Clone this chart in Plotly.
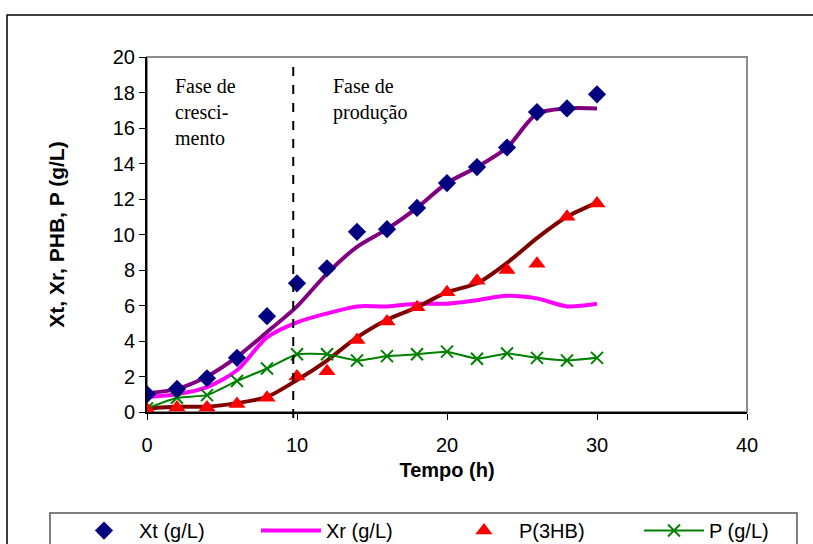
import plotly.graph_objects as go

# ---------------- data ----------------
tempo = [0, 2, 4, 6, 8, 10, 12, 14, 16, 18, 20, 22, 24, 26, 28, 30]
xt_obs = [1.0, 1.3, 1.9, 3.05, 5.4, 7.25, 8.1, 10.15, 10.3, 11.5, 12.9, 13.8, 14.9, 16.9, 17.1, 17.9]
xt_fit = [1.05, 1.3, 2.0, 3.1, 4.5, 5.95, 7.8, 9.3, 10.3, 11.5, 12.9, 13.8, 14.9, 16.8, 17.1, 17.1]
xr_fit = [0.85, 1.0, 1.4, 2.35, 4.2, 5.05, 5.55, 5.95, 5.95, 6.1, 6.1, 6.3, 6.55, 6.4, 5.95, 6.1]
p3hb_obs = [0.15, 0.25, 0.25, 0.45, 0.8, 2.0, 2.3, 4.05, 5.1, 5.9, 6.75, 7.4, 8.0, 8.35, 11.0, 11.75]
p3hb_fit = [0.2, 0.3, 0.3, 0.5, 0.85, 1.8, 2.9, 4.2, 5.2, 5.9, 6.75, 7.25, 8.4, 9.8, 11.0, 11.8]
p_obs = [0.2, 0.8, 0.95, 1.75, 2.45, 3.25, 3.25, 2.9, 3.15, 3.25, 3.4, 3.0, 3.3, 3.05, 2.9, 3.05]

phase_split = 9.75
x_ticks = [0, 10, 20, 30, 40]
y_ticks = [0, 2, 4, 6, 8, 10, 12, 14, 16, 18, 20]

SANS = "Liberation Sans, Arial, sans-serif"
SERIF = "Liberation Serif, Times New Roman, serif"

fig = go.Figure()

# fitted curves (not in legend)
fig.add_trace(go.Scatter(x=tempo, y=xt_fit, mode="lines", line=dict(color="#800080", width=4, shape="spline", smoothing=0.8),
                         showlegend=False, hoverinfo="skip"))
fig.add_trace(go.Scatter(x=tempo, y=xr_fit, mode="lines", name="Xr (g/L)", legend="legend2",
                         line=dict(color="#FF00FF", width=4, shape="spline", smoothing=0.8)))
fig.add_trace(go.Scatter(x=tempo, y=p3hb_fit, mode="lines", line=dict(color="#800000", width=4, shape="spline", smoothing=0.8),
                         showlegend=False, hoverinfo="skip"))
fig.add_trace(go.Scatter(x=tempo, y=p_obs, mode="lines+markers", name="P (g/L)", legend="legend4",
                         line=dict(color="#008000", width=2, shape="spline", smoothing=0.4),
                         marker=dict(symbol="x-thin", size=12, line=dict(color="#008000", width=2))))
fig.add_trace(go.Scatter(x=tempo, y=xt_obs, mode="markers", name="Xt (g/L)", legend="legend",
                         marker=dict(symbol="diamond", size=14, color="#000080")))
fig.add_trace(go.Scatter(x=tempo, y=p3hb_obs, mode="markers", name="P(3HB)", legend="legend3",
                         marker=dict(symbol="triangle-up", size=15, color="#FF0000")))

shapes = [
    # plot area border (gray top/right)
    dict(type="rect", xref="paper", yref="paper", x0=0, x1=1, y0=0, y1=1,
         line=dict(color="#8c8c8c", width=2), layer="below"),
    # phase separator
    dict(type="line", xref="x", yref="paper", x0=phase_split, x1=phase_split, y0=-0.017, y1=0.986,
         line=dict(color="black", width=2, dash="dash")),
    # outer frame
    dict(type="rect", xref="paper", yref="paper", x0=-0.2333, x1=1.125, y0=-0.42, y1=1.118,
         line=dict(color="black", width=1.5)),
    # legend box
    dict(type="rect", xref="paper", yref="paper", x0=-0.1617, x1=1.0833, y0=-0.42, y1=-0.2845,
         line=dict(color="#555555", width=1.5)),
]

annotations = [
    dict(text="Fase de<br>cresci-<br>mento", x=1.73, y=19.1, xref="x", yref="y", xanchor="left", yanchor="top",
         align="left", showarrow=False, font=dict(family=SERIF, size=20, color="black")),
    dict(text="Fase de<br>produção", x=12.27, y=19.1, xref="x", yref="y", xanchor="left", yanchor="top",
         align="left", showarrow=False, font=dict(family=SERIF, size=20, color="black")),
]

def leg(xpos):
    return dict(orientation="h", x=xpos, y=-0.279, xanchor="left", yanchor="top",
                itemwidth=60, font=dict(family=SANS, size=20, color="black"),
                bgcolor="rgba(0,0,0,0)", borderwidth=0)

fig.update_layout(
    width=813, height=544,
    margin=dict(l=147, r=66, t=57, b=132, autoexpand=False),
    paper_bgcolor="white", plot_bgcolor="white",
    font=dict(family=SANS, size=20, color="black"),
    shapes=shapes, annotations=annotations,
    showlegend=True,
    legend=leg(-0.13), legend2=leg(0.1817), legend3=leg(0.5033), legend4=leg(0.82),
    xaxis=dict(range=[0, 40], tickvals=x_ticks, ticktext=[str(v) for v in x_ticks],
               showgrid=False, zeroline=False, showline=True, linecolor="black", linewidth=2,
               ticks="outside", ticklen=6, tickcolor="black", tickwidth=1, ticklabelstandoff=8,
               tickfont=dict(family=SANS, size=20, color="black"),
               title=dict(text="<b>Tempo (h)</b>", font=dict(family=SANS, size=20, color="black"), standoff=8)),
    yaxis=dict(range=[0, 20], tickvals=y_ticks, ticktext=[str(v) for v in y_ticks],
               showgrid=False, zeroline=False, showline=True, linecolor="black", linewidth=2,
               ticks="outside", ticklen=6, tickcolor="black", tickwidth=1,
               tickfont=dict(family=SANS, size=20, color="black"),
               title=dict(text="<b>Xt, Xr, PHB, P (g/L)</b>", font=dict(family=SANS, size=21, color="black"), standoff=42)),
)

fig.write_html("out.html", config={"displayModeBar": False},
               post_script="document.body.style.margin='0';")
